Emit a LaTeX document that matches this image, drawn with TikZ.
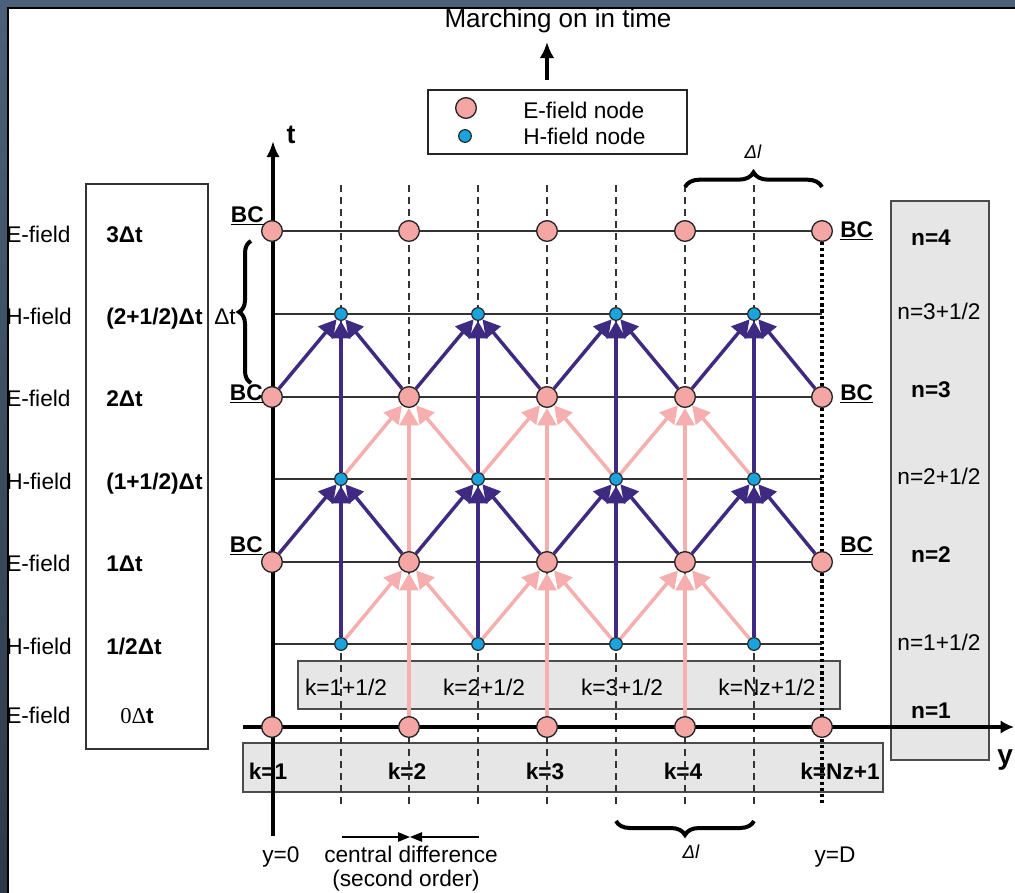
\documentclass[tikz,border=0pt]{standalone}
\usepackage{fontspec}
\setmainfont{Liberation Sans}
\newfontfamily\serifrm{Liberation Serif}
\usetikzlibrary{arrows.meta,decorations.pathreplacing}
\definecolor{navy}{HTML}{4B6079}
\definecolor{navydark}{HTML}{2D3947}
\definecolor{epink}{HTML}{F4A6A4}
\definecolor{apink}{HTML}{F6AEAE}
\definecolor{hblue}{HTML}{1BA3DD}
\definecolor{apurple}{HTML}{3F2A82}
\definecolor{boxgray}{HTML}{E6E6E6}
\pgfdeclarelayer{back}
\pgfdeclarelayer{mid}
\pgfsetlayers{back,mid,main}
\begin{document}
\begin{tikzpicture}[x=0.75pt,y=-0.75pt,
  txt/.style={inner sep=0pt,font=\fontsize{17}{20}\selectfont},
  btxt/.style={inner sep=0pt,font=\fontsize{17}{20}\selectfont\bfseries},
  enode/.style={circle,draw=black!85,line width=1pt,fill=epink,minimum size=15.5pt,inner sep=0pt},
  hnode/.style={circle,draw=black!85,line width=0.9pt,fill=hblue,minimum size=9.5pt,inner sep=0pt},
  gridline/.style={draw=black!80,line width=1.3pt},
  dashline/.style={draw=black!80,line width=1.2pt,dash pattern=on 5.5pt off 3.5pt},
  parrow/.style={draw=apurple,line width=2.6pt,-{Triangle[length=13pt,width=14pt]}},
  karrow/.style={draw=apink,line width=2.6pt,-{Triangle[length=13pt,width=14pt]}},
  axisline/.style={draw=black,line width=3pt},
  graybox/.style={draw=black!70,line width=1.2pt,fill=boxgray},
  mybrace/.style={decorate,decoration={brace,amplitude=#1},line width=3pt},
]
\useasboundingbox (0,0) rectangle (1015,893);

% ---------- background layer ----------
\begin{pgfonlayer}{back}
\fill[navy] (0,0) rectangle (1015,893);
\shade[top color=navy,bottom color=navydark] (0,0) rectangle (8,893);
\fill[white] (8,8) rectangle (1015,893);
\draw[black,line width=1.2pt] (8,893) -- (8,8) -- (1015,8);

% boxes
\draw[draw=black!80,line width=1.2pt] (86,184) rectangle (208,749);
\draw[graybox] (891,201) rectangle (989,760);
\draw[graybox] (298,661) rectangle (840,709);
\draw[graybox] (243,743) rectangle (883,792);
\draw[draw=black!85,line width=1.5pt] (428,90) rectangle (687,154);

% box texts
\node[btxt,anchor=base] at (268,779) {k=1};
\node[btxt,anchor=base] at (407,779) {k=2};
\node[btxt,anchor=base] at (545,779) {k=3};
\node[btxt,anchor=base] at (683,779) {k=4};
\node[btxt,anchor=base] at (840,779) {k=Nz+1};
\node[txt,anchor=base] at (346,695) {k=1+1/2};
\node[txt,anchor=base] at (484,695) {k=2+1/2};
\node[txt,anchor=base] at (622,695) {k=3+1/2};
\node[txt,anchor=base] at (767,695) {k=Nz+1/2};
\node[btxt,anchor=base] at (931,245) {n=4};
\node[txt,anchor=base] at (939,319) {n=3+1/2};
\node[btxt,anchor=base] at (931,397) {n=3};
\node[txt,anchor=base] at (939,484) {n=2+1/2};
\node[btxt,anchor=base] at (931,562) {n=2};
\node[txt,anchor=base] at (939,650) {n=1+1/2};
\node[btxt,anchor=base] at (931,718) {n=1};

% dashed and dotted verticals
\foreach \x in {341,409,478,547,616,685,754}
  \draw[dashline] (\x,185) -- (\x,807);
\draw[line width=2.8pt,dash pattern=on 2.4pt off 2.2pt] (822,242) -- (822,806);

% horizontal grid lines
\foreach \y in {644,479,314}
  \draw[gridline] (273,\y) -- (822,\y);
\foreach \y in {562,397,231}
  \draw[gridline] (272,\y) -- (822,\y);
\end{pgfonlayer}

% ---------- axes ----------
\coordinate (tbot) at (273,836);
\coordinate (ttop) at (273,141);
\coordinate (yleft) at (243,727);
\coordinate (yright) at (1014,727);
\begin{pgfonlayer}{back}
\draw[axisline,-{Latex[length=12pt,width=10pt]}] (tbot) -- (ttop);
\draw[axisline,-{Latex[length=10pt,width=10pt]}] (yleft) -- (yright);
\end{pgfonlayer}

% ---------- nodes ----------
\foreach \i/\x in {0/272,1/409,2/547,3/685,4/822}
  \foreach \j/\y in {1/727,2/562,3/397,4/231}
    \node[enode] (e\i\j) at (\x,\y) {};
\foreach \i/\x in {1/341,2/478,3/616,4/754}
  \foreach \j/\y in {1/644,2/479,3/314}
    \node[hnode] (h\i\j) at (\x,\y) {};

% ---------- arrows ----------
\begin{pgfonlayer}{mid}
% pink: E nodes fed by H below and E below
\foreach \i in {1,2,3}{
  \foreach \j in {2,3}{
    \pgfmathtruncatemacro\jm{\j-1}
    \pgfmathtruncatemacro\ip{\i+1}
    \draw[karrow] (h\i\jm) -- (e\i\j);
    \draw[karrow] (h\ip\jm) -- (e\i\j);
    \draw[karrow] (e\i\jm) -- (e\i\j);
  }
}
% purple: H nodes fed by E below and H below
\foreach \i in {1,2,3,4}{
  \foreach \j in {2,3}{
    \pgfmathtruncatemacro\jm{\j-1}
    \pgfmathtruncatemacro\il{\i-1}
    \draw[parrow] (e\il\j) -- (h\i\j);
    \draw[parrow] (e\i\j) -- (h\i\j);
    \draw[parrow] (h\i\jm) -- (h\i\j);
  }
}
\end{pgfonlayer}

% ---------- legend ----------
\node[enode] (legE) at (466,108) {};
\node[hnode] (legH) at (465,136) {};
\node[txt,anchor=base west] (legEt) at (523,118) {E-field node};
\node[txt,anchor=base west] (legHt) at (523,144) {H-field node};

% ---------- title ----------
\node[inner sep=0pt,font=\fontsize{19.5}{22}\selectfont,anchor=base] (march) at (558,27) {Marching on in time};
\coordinate (marchtail) at (547,80);
\coordinate (marchtip) at (547,42);
\draw[line width=2.6pt,-{Latex[length=12pt,width=11pt]}] (marchtail) -- (marchtip);

% ---------- axis labels ----------
\node[inner sep=0pt,font=\fontsize{20}{22}\selectfont\bfseries,anchor=base] (tlab) at (291,143) {t};
\node[inner sep=0pt,font=\fontsize{21}{24}\selectfont\bfseries,anchor=base west] (ylab) at (997,764) {y};

% ---------- left column ----------
\foreach \lab/\y in {E-field/242,H-field/324,E-field/406,H-field/489,E-field/571,H-field/654,E-field/723}
  \node[txt,anchor=base west] at (6,\y) {\lab};
\node[btxt,anchor=base west] at (106,242) {3Δt};
\node[btxt,anchor=base west] at (106,324) {(2+1/2)Δt};
\node[btxt,anchor=base west] at (106,406) {2Δt};
\node[btxt,anchor=base west] at (106,489) {(1+1/2)Δt};
\node[btxt,anchor=base west] at (106,571) {1Δt};
\node[btxt,anchor=base west] at (106,654) {1/2Δt};
\node[txt,anchor=base west] at (120,723) {{\serifrm 0Δ}\textbf{t}};

% ---------- BC labels ----------
\node[btxt,anchor=base east] at (264,222) {\underline{BC}};
\node[btxt,anchor=base east] at (263,400) {\underline{BC}};
\node[btxt,anchor=base east] at (263,552) {\underline{BC}};
\node[btxt,anchor=base west] at (840,237) {\underline{BC}};
\node[btxt,anchor=base west] at (840,400) {\underline{BC}};
\node[btxt,anchor=base west] at (840,552) {\underline{BC}};

% ---------- braces ----------
\node[txt,anchor=base east] at (236,324) {Δt};
\draw[mybrace=9pt] (251,383) -- (251,241);
\draw[mybrace=11pt] (685,187) -- (822,187);
\node[inner sep=0pt,font=\fontsize{14}{16}\selectfont\itshape,anchor=base] at (753,158) {Δl};
\draw[mybrace=10.5pt] (754,821) -- (616,821);
\node[inner sep=0pt,font=\fontsize{14}{16}\selectfont\itshape,anchor=base] at (691,858) {Δl};

% ---------- bottom annotations ----------
\node[txt,anchor=base] at (281,862) {y=0};
\node[txt,anchor=base] at (411,862) {central difference};
\node[txt,anchor=base] at (406,886) {(second order)};
\node[txt,anchor=base] at (835,862) {y=D};
\coordinate (cdl) at (342,837);
\coordinate (cdm) at (410,837);
\coordinate (cdr) at (479,837);
\draw[line width=1.2pt,-{Triangle[length=9pt,width=7pt]}] (cdl) -- (cdm);
\draw[line width=1.2pt,-{Triangle[length=9pt,width=7pt]}] (cdr) -- (cdm);
\end{tikzpicture}
\end{document}
